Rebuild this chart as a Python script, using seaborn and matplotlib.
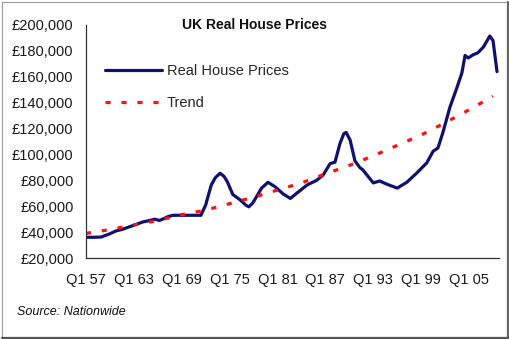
import matplotlib
matplotlib.use("Agg")
import matplotlib.pyplot as plt
from matplotlib.lines import Line2D
import seaborn as sns
import pandas as pd

# Real house prices, year fraction vs GBP
price_years = [1957.0, 1958.0, 1958.9, 1959.9, 1960.8, 1961.5, 1962.4, 1963.3, 1964.1, 1965.0,
               1965.6, 1966.2, 1966.6, 1967.3, 1967.9, 1969.0, 1970.5, 1971.4, 1972.0, 1972.4,
               1972.7, 1973.2, 1973.8, 1974.3, 1974.7, 1975.4, 1976.3, 1977.0, 1977.4, 1977.9,
               1979.0, 1979.8, 1980.7, 1981.7, 1982.6, 1983.4, 1984.7, 1985.9, 1986.7, 1987.6,
               1988.2, 1988.8, 1989.3, 1989.6, 1990.1, 1990.7, 1991.3, 1991.7, 1993.0, 1993.8,
               1994.7, 1996.0, 1997.2, 1998.5, 1999.7, 2000.5, 2001.1, 2001.7, 2002.6, 2003.5,
               2004.1, 2004.5, 2004.9, 2005.5, 2006.1, 2006.8, 2007.6, 2008.0, 2008.5]
price_values = [36000, 36000, 36200, 38500, 41000, 42000, 44000, 46000, 47800, 49000,
                50000, 49000, 50000, 52000, 53000, 53000, 53000, 53000, 61000, 70000,
                76400, 82000, 85500, 83000, 79000, 69000, 65000, 61000, 59500, 62500,
                74000, 78500, 75000, 69500, 66000, 70000, 76400, 80000, 84000, 93000,
                94000, 108000, 116000, 117000, 111000, 95000, 90000, 88000, 78000, 79500,
                77000, 74000, 78500, 86000, 93500, 102500, 105000, 116500, 136500, 152000,
                163000, 176500, 174500, 177000, 178500, 183000, 191500, 188000, 164000]

# Trend
trend_years = [1957, 1960, 1963, 1966, 1969, 1972, 1975, 1978, 1981, 1984, 1987, 1990,
               1993, 1996, 1999, 2002, 2005, 2008]
trend_values = [39000, 42000, 45500, 49000, 53500, 57000, 62000, 67000, 72500, 78000,
                85000, 91500, 99000, 107000, 115000, 124500, 134500, 145000]

tick_years = list(range(1957, 2009, 3))
label_years = [1957, 1963, 1969, 1975, 1981, 1987, 1993, 1999, 2005]
tick_labels = ["Q1 57", "Q1 63", "Q1 69", "Q1 75", "Q1 81", "Q1 87", "Q1 93", "Q1 99", "Q1 05"]
y_ticks = list(range(20000, 200001, 20000))

sns.set_style("white")
plt.rcParams["font.family"] = ["Liberation Sans", "DejaVu Sans"]

fig = plt.figure(figsize=(5.1, 3.39), dpi=100)
ax = fig.add_axes([86/510, 1-258/339, (499-86)/510, (258-25)/339])

df_p = pd.DataFrame({"year": price_years, "value": price_values})
df_t = pd.DataFrame({"year": trend_years, "value": trend_values})

sns.lineplot(data=df_p, x="year", y="value", ax=ax, color="#101070", linewidth=2.3,
             label="Real House Prices", solid_joinstyle="round")
sns.lineplot(data=df_t, x="year", y="value", ax=ax, color="#ff1010", linewidth=2.3,
             label="Trend", linestyle=(0, (1.6, 3.4)), dash_capstyle="butt")

ax.set_xlim(1957, 2008.75)
ax.set_ylim(20000, 200000)
ax.set_xticks(tick_years)
label_map = dict(zip(label_years, tick_labels))
ax.set_xticklabels([label_map.get(y, "") for y in tick_years])
ax.set_yticks(y_ticks)
ax.set_yticklabels(["£{:,}".format(v) for v in y_ticks])
ax.set_xlabel("")
ax.set_ylabel("")
for s in ["top", "right"]:
    ax.spines[s].set_visible(False)
for s in ["left", "bottom"]:
    ax.spines[s].set_color("#333333")
    ax.spines[s].set_linewidth(0.9)
ax.tick_params(axis="both", direction="out", length=4.5, width=0.9, color="#333333",
               labelsize=10.5, labelcolor="#1a1a1a")
ax.tick_params(axis="y", pad=4.5)
ax.tick_params(axis="x", pad=6)

leg = ax.legend(loc="upper left", bbox_to_anchor=(105/510, 1-64/339),
                bbox_transform=fig.transFigure, frameon=False, fontsize=10.5,
                handlelength=3.9, handletextpad=0.35, labelspacing=1.25,
                borderpad=0, borderaxespad=0)

fig.text(0.5, 1-25/339, "UK Real House Prices", ha="center", va="center",
         fontsize=10, fontweight="bold", color="#111111")
fig.text(17/510, 1-312/339, "Source: Nationwide", ha="left", va="center",
         fontsize=9, fontstyle="italic", color="#111111")

# outer frame
fig.add_artist(Line2D([2/510, 2/510], [1-2/339, 1-338/339], transform=fig.transFigure,
                      color="#999999", linewidth=0.8))
fig.add_artist(Line2D([2/510, 508/510], [1-2/339, 1-2/339], transform=fig.transFigure,
                      color="#999999", linewidth=0.8))
fig.add_artist(Line2D([508/510, 508/510], [1-2/339, 1-338/339], transform=fig.transFigure,
                      color="#666666", linewidth=1.6))
fig.add_artist(Line2D([2/510, 508/510], [1-337.5/339, 1-337.5/339], transform=fig.transFigure,
                      color="#555555", linewidth=1.6))

fig.savefig("out.png", dpi=100)
